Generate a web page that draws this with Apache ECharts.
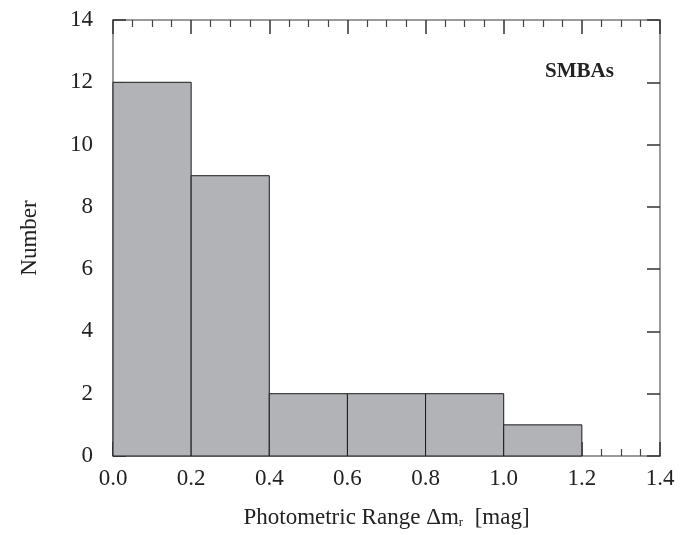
<!DOCTYPE html>
<html>
<head>
<meta charset="utf-8">
<script src="https://cdn.jsdelivr.net/npm/echarts@6/dist/echarts.min.js"></script>
<style>
  html, body { margin: 0; padding: 0; background: #fff; }
  #main { width: 694px; height: 535px; }
</style>
</head>
<body>
<div id="main"></div>
<script>
// bin edges and counts of the histogram
var binStart = [0.0, 0.2, 0.4, 0.6, 0.8, 1.0];
var binEnd = [0.2, 0.4, 0.6, 0.8, 1.0, 1.2];
var counts = [12, 9, 2, 2, 2, 1];

var font = 'Liberation Serif';
var axisGray = '#9a9a9a';

var chart = echarts.init(document.getElementById('main'));

var barData = binStart.map(function (s, i) {
  return [s, binEnd[i], counts[i]];
});

// shared look for the frame axes
function frameX(pos, showLabel) {
  return {
    type: 'value', position: pos, min: 0, max: 1.4, interval: 0.2,
    axisLine: { show: true, onZero: false, lineStyle: { color: axisGray, width: 2 } },
    axisTick: { show: true, inside: true, length: 14, lineStyle: { color: '#333', width: 1.5 } },
    minorTick: { show: true, splitNumber: 4, length: 7, lineStyle: { color: '#444', width: 1.2 } },
    splitLine: { show: false },
    axisLabel: {
      show: showLabel, color: '#222', fontFamily: font, fontSize: 23, margin: 11,
      formatter: function (v) { return v.toFixed(1); }
    }
  };
}
function frameY(pos, showLabel) {
  return {
    type: 'value', position: pos, min: 0, max: 14, interval: 2,
    axisLine: { show: true, onZero: false, lineStyle: { color: axisGray, width: 2 } },
    axisTick: { show: true, inside: true, length: 13, lineStyle: { color: '#333', width: 1.5 } },
    splitLine: { show: false },
    axisLabel: { show: showLabel, color: '#222', fontFamily: font, fontSize: 23, margin: 20 }
  };
}

var xBottom = frameX('bottom', true);
xBottom.name = 'Photometric Range Δm{sub|r}  [mag]';
xBottom.nameLocation = 'middle';
xBottom.nameGap = 50;
xBottom.nameTextStyle = {
  color: '#222', fontFamily: font, fontSize: 23,
  rich: { sub: { fontFamily: font, fontSize: 13, color: '#222', verticalAlign: 'bottom', padding: [10, 0, 0, 0] } }
};
var yLeft = frameY('left', true);
yLeft.name = 'Number';
yLeft.nameLocation = 'middle';
yLeft.nameGap = 72;
yLeft.nameTextStyle = { color: '#222', fontFamily: font, fontSize: 23 };

chart.setOption({
  animation: false,
  backgroundColor: '#fff',
  grid: { left: 113, right: 34, top: 20, bottom: 79, containLabel: false, outerBoundsMode: 'none' },
  xAxis: [xBottom, frameX('top', false)],
  yAxis: [yLeft, frameY('right', false)],
  graphic: [{
    type: 'text', left: 545, top: 61,
    style: { text: 'SMBAs', fontFamily: font, fontSize: 21, fontWeight: 'bold', fill: '#222' }
  }],
  series: [{
    type: 'custom',
    xAxisIndex: 0, yAxisIndex: 0,
    data: barData,
    encode: { x: [0, 1], y: 2 },
    renderItem: function (params, api) {
      var p0 = api.coord([api.value(0), api.value(2)]);
      var p1 = api.coord([api.value(1), 0]);
      return {
        type: 'rect',
        shape: { x: p0[0], y: p0[1], width: p1[0] - p0[0], height: p1[1] - p0[1] },
        style: { fill: '#b2b3b7', stroke: '#1a1a1a', lineWidth: 1 }
      };
    },
    z: 1
  }]
});
</script>
</body>
</html>
